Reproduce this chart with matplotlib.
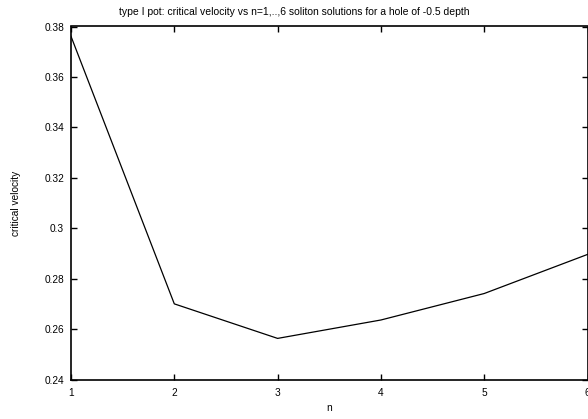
import matplotlib
matplotlib.use("Agg")
import matplotlib.pyplot as plt

n_values = [1, 2, 3, 4, 5, 6]
critical_velocity = [0.3761, 0.2700, 0.2563, 0.2636, 0.2741, 0.2896]
x_ticks = [1, 2, 3, 4, 5, 6]
y_ticks = [0.24, 0.26, 0.28, 0.30, 0.32, 0.34, 0.36, 0.38]
y_tick_labels = ["0.24", "0.26", "0.28", "0.3", "0.32", "0.34", "0.36", "0.38"]

plt.rcParams['font.family'] = ['Liberation Sans', 'DejaVu Sans']

fig = plt.figure(figsize=(5.88, 4.19), dpi=100)
ax = fig.add_axes([71/588, 1-379.5/419, (587.5-71)/588, (379.5-26.5)/419])

ax.plot(n_values, critical_velocity, color='black', linewidth=0.9)

ax.set_xlim(1, 6)
ax.set_ylim(0.24, 0.38)
ax.set_xticks(x_ticks)
ax.set_xticklabels([str(v) for v in x_ticks])
ax.set_yticks(y_ticks)
ax.set_yticklabels(y_tick_labels)
ax.tick_params(direction='in', length=4.5, width=1.0, top=True, right=True,
               labelsize=7.3, pad=5)
ax.tick_params(axis='x', pad=6)
for s in ax.spines.values():
    s.set_linewidth(1.2)

fig.text(0.5, 1-12/419,
         "type I pot: critical velocity vs n=1,..,6 soliton solutions for a hole of -0.5 depth",
         fontsize=7.5, ha='center', va='center')
ax.set_xlabel("n", fontsize=7.3, labelpad=4)
ax.set_ylabel("critical velocity", fontsize=7.3, labelpad=17)

fig.savefig("out.png", dpi=100)
